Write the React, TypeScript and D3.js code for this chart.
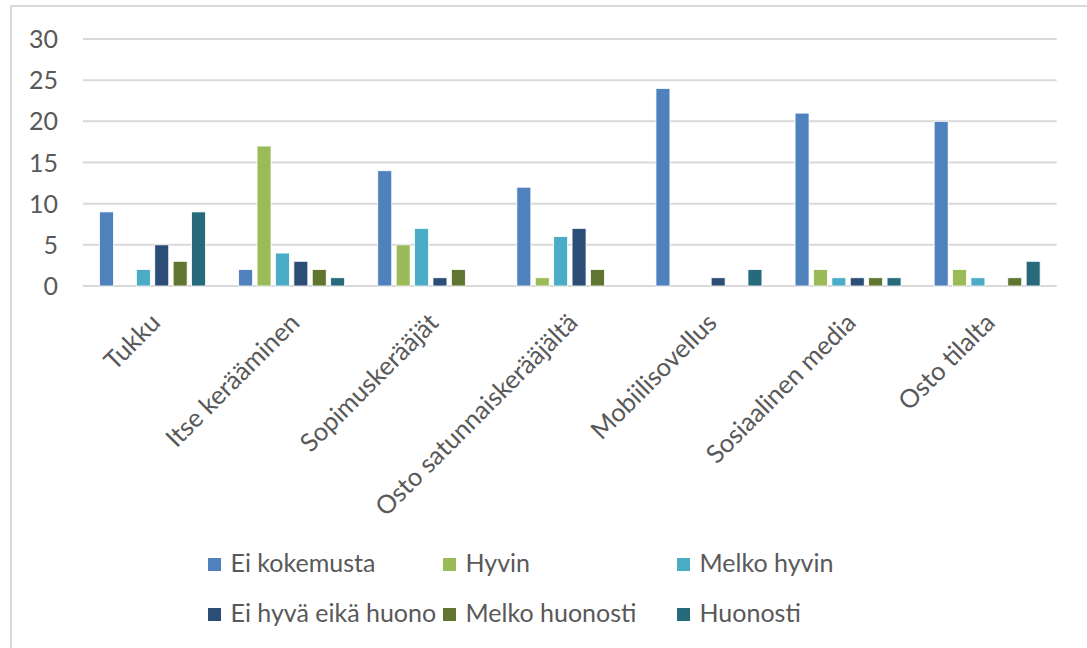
import React from "react";
import * as d3 from "d3";

const categories = [
  "Tukku",
  "Itse kerääminen",
  "Sopimuskerääjät",
  "Osto satunnaiskerääjältä",
  "Mobiilisovellus",
  "Sosiaalinen media",
  "Osto tilalta",
];

const seriesNames = [
  "Ei kokemusta",
  "Hyvin",
  "Melko hyvin",
  "Ei hyvä eikä huono",
  "Melko huonosti",
  "Huonosti",
];

const eiKokemusta = [9, 2, 14, 12, 24, 21, 20];
const hyvin = [0, 17, 5, 1, 0, 2, 2];
const melkoHyvin = [2, 4, 7, 6, 0, 1, 1];
const eiHyvaEikaHuono = [5, 3, 1, 7, 1, 1, 0];
const melkoHuonosti = [3, 2, 2, 2, 0, 1, 1];
const huonosti = [9, 1, 0, 0, 2, 1, 3];

const seriesValues = [eiKokemusta, hyvin, melkoHyvin, eiHyvaEikaHuono, melkoHuonosti, huonosti];

const colors = ["#4F81BD", "#9BBB59", "#4BACC6", "#2C4D75", "#5F7530", "#276A7C"];

const yTicks = [0, 5, 10, 15, 20, 25, 30];

const FONT = "Lato, 'Open Sans', sans-serif";
const TEXT = "#595959";

export default function App() {
  const W = 1087;
  const H = 648;
  const plotLeft = 83;
  const plotRight = 1056.7;
  const yBottom = 286;
  const yTop = 39;

  const x0 = d3.scaleBand<string>().domain(categories).range([plotLeft, plotRight]).padding(0);
  const groupW = 110.4;
  const x1 = d3
    .scaleBand<string>()
    .domain(seriesNames)
    .range([-groupW / 2, groupW / 2])
    .paddingInner(0.24)
    .paddingOuter(0.12);
  const y = d3.scaleLinear().domain([0, 30]).range([yBottom, yTop]);

  const legendCols = [208, 443, 677];
  const legendRows = [572, 622];

  return (
    <svg
      width={W}
      height={H}
      style={{ position: "absolute", left: 0, top: 0, background: "#fff" }}
      fontFamily={FONT}
    >
      <rect x={0} y={0} width={W} height={H} fill="#fff" />
      <rect x={11} y={6} width={W + 20} height={H + 20} fill="none" stroke="#D9D9D9" strokeWidth={2} />

      {yTicks.map((t) => (
        <g key={t}>
          <line x1={plotLeft} x2={plotRight} y1={y(t)} y2={y(t)} stroke="#D9D9D9" strokeWidth={2} />
          <text x={58} y={y(t)} dy="0.36em" textAnchor="end" fontSize={25} fill={TEXT}>
            {t}
          </text>
        </g>
      ))}

      {categories.map((c, ci) => {
        const cx = (x0(c) as number) + x0.bandwidth() / 2;
        return (
          <g key={c}>
            {seriesNames.map((s, si) => {
              const v = seriesValues[si][ci];
              if (!v) return null;
              return (
                <rect
                  key={s}
                  x={cx + (x1(s) as number)}
                  y={y(v)}
                  width={x1.bandwidth()}
                  height={y(0) - y(v)}
                  fill={colors[si]}
                  stroke="#fff"
                  strokeWidth={0.8}
                />
              );
            })}
            <text
              transform={`translate(${cx + 3},${318}) rotate(-45)`}
              textAnchor="end"
              dy="0.35em"
              fontSize={25.5}
              fill={TEXT}
            >
              {c}
            </text>
          </g>
        );
      })}

      {seriesNames.map((s, si) => {
        const col = si % 3;
        const row = Math.floor(si / 3);
        const lx = legendCols[col];
        const ly = legendRows[row];
        return (
          <g key={s}>
            <rect x={lx} y={ly - 14} width={13} height={13} fill={colors[si]} />
            <text x={lx + 22.5} y={ly} fontSize={25} fill={TEXT}>
              {s}
            </text>
          </g>
        );
      })}
    </svg>
  );
}
